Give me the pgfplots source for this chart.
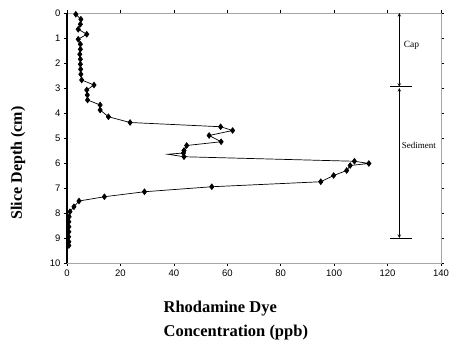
\documentclass[border=0pt]{standalone}
\usepackage{fontspec}
\setmainfont{Liberation Serif}
\newfontfamily\sansfont{Liberation Sans}
\usepackage{pgfplots}
\pgfplotsset{compat=1.18}
\begin{document}
\begin{tikzpicture}
\useasboundingbox (0,0) rectangle (451pt,347pt);
\begin{axis}[
  at={(67pt,84pt)}, anchor=south west,
  scale only axis, width=374pt, height=250pt,
  xmin=0, xmax=140, ymin=0, ymax=10,
  y dir=reverse,
  xtick={0,20,...,140}, ytick={0,1,...,10},
  /pgf/number format/assume math mode=true,
  ticklabel style={font=\sansfont\fontsize{9.5}{10}\selectfont},
  tick align=outside, tick style={black, line width=0.6pt},
  major tick length=3pt,
  axis line style={draw=none},
  xlabel={Rhodamine Dye\\Concentration (ppb)},
  xlabel style={at={(axis description cs:0.249,-0.14)}, anchor=north west, align=left, font=\fontsize{16.5}{24}\selectfont\bfseries},
  ylabel={Slice Depth (cm)},
  ylabel style={at={(axis description cs:-0.131,0.4)}, anchor=center, font=\fontsize{16}{18}\selectfont\bfseries},
  clip=false,
]
% frame
\draw[gray!70, line width=0.6pt] (axis cs:0,0) -- (axis cs:140,0) -- (axis cs:140,10) -- (axis cs:0,10);
\draw[black, line width=1.2pt] (axis cs:0,0) -- (axis cs:0,10);
\addplot[black, line width=0.7pt, mark=diamond*, mark size=2.8pt, mark options={fill=black},
  mark indices={1,...,29,31,32,...,50}] coordinates {
(3.3,0.05) (5.2,0.25) (5.0,0.45) (4.2,0.65) (7.4,0.85) (4.2,1.05) (5.0,1.25)
(5.0,1.45) (4.8,1.65) (5.0,1.85) (5.0,2.05) (5.1,2.25) (5.2,2.45) (5.5,2.68)
(10.1,2.88) (7.4,3.08) (7.6,3.28) (7.7,3.48) (12.4,3.68) (12.4,3.88) (15.5,4.15)
(23.6,4.38) (57.5,4.55) (62.0,4.7) (53.2,4.9) (57.7,5.15) (44.8,5.3) (43.8,5.5)
(43.6,5.6) (37.7,5.65) (43.8,5.75) (107.6,5.93) (113.0,6.02) (106.0,6.1)
(104.7,6.3) (99.8,6.5) (95.0,6.75) (54.2,6.95) (29.0,7.15) (14.0,7.35)
(4.5,7.52) (2.6,7.75) (1.1,7.95) (0.8,8.15) (0.7,8.35) (0.7,8.55) (0.7,8.75)
(0.6,8.95) (0.7,9.15) (0.7,9.3)
};
% annotations
\draw[black, line width=0.6pt, <->, >=stealth] (axis cs:124.4,0) -- (axis cs:124.4,2.95);
\draw[black, line width=0.6pt, <->, >=stealth] (axis cs:124.4,3.0) -- (axis cs:124.4,9.0);
\draw[black, line width=0.8pt] (axis cs:121,2.95) -- (axis cs:129,2.95);
\draw[black, line width=0.8pt] (axis cs:121,9.0) -- (axis cs:129,9.0);
\node[anchor=west, font=\fontsize{9.5}{10}\selectfont, inner sep=0pt] at (axis cs:126,1.3) {Cap};
\node[anchor=west, font=\fontsize{9}{10}\selectfont, inner sep=0pt] at (axis cs:125.3,5.3) {Sediment};
\end{axis}
\end{tikzpicture}
\end{document}
